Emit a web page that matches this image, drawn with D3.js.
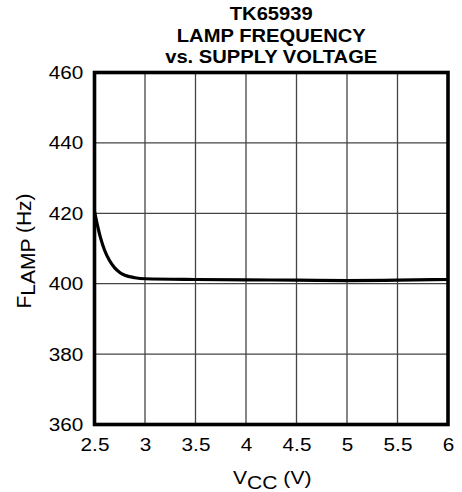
<!DOCTYPE html>
<html>
<head>
<meta charset="utf-8">
<script src="https://cdn.jsdelivr.net/npm/d3@7"></script>
<style>
  body { margin: 0; background: #fff; }
  text { font-family: "Liberation Sans", Arial, sans-serif; fill: #000; }
</style>
</head>
<body>
<script>
// data
var titleLines = ["TK65939", "LAMP FREQUENCY", "vs. SUPPLY VOLTAGE"];
var xTicks = [2.5, 3, 3.5, 4, 4.5, 5, 5.5, 6];
var yTicks = [360, 380, 400, 420, 440, 460];
var vcc = [2.5, 2.53, 2.56, 2.6, 2.65, 2.7, 2.75, 2.8, 2.9, 3.0, 3.5, 4, 4.5, 5, 5.5, 6];
var flamp = [420.5, 416.5, 413.0, 409.5, 406.5, 404.5, 403.2, 402.4, 401.7, 401.4, 401.2, 401.1, 401.0, 400.9, 401.0, 401.2];

var W = 462, H = 492;
var plot = { left: 94.5, right: 448, top: 72.5, bottom: 424.5 };
var cx = (plot.left + plot.right) / 2;

var svg = d3.select("body").append("svg")
    .attr("width", W)
    .attr("height", H);

var x = d3.scaleLinear().domain([2.5, 6]).range([plot.left, plot.right]);
var y = d3.scaleLinear().domain([360, 460]).range([plot.bottom, plot.top]);

// title
svg.append("g")
    .attr("transform", "translate(" + cx + ",0) scale(1.12,1)")
    .selectAll("text")
    .data(titleLines)
    .enter().append("text")
    .attr("x", 0)
    .attr("y", function (d, i) { return [20, 42, 63][i]; })
    .attr("text-anchor", "middle")
    .style("font-weight", "bold")
    .style("font-size", "18px")
    .text(function (d) { return d; });

// grid
svg.append("g")
    .selectAll("line")
    .data(xTicks.slice(1, -1))
    .enter().append("line")
    .attr("x1", function (d) { return x(d); })
    .attr("x2", function (d) { return x(d); })
    .attr("y1", plot.top)
    .attr("y2", plot.bottom)
    .attr("stroke", "#444")
    .attr("stroke-width", 1.3);

svg.append("g")
    .selectAll("line")
    .data(yTicks.slice(1, -1))
    .enter().append("line")
    .attr("x1", plot.left)
    .attr("x2", plot.right)
    .attr("y1", function (d) { return y(d); })
    .attr("y2", function (d) { return y(d); })
    .attr("stroke", "#444")
    .attr("stroke-width", 1.3);

// axes (labels only)
var xAxis = d3.axisBottom(x).tickValues(xTicks).tickSize(0).tickPadding(13)
    .tickFormat(function (d) { return String(d); });
var yAxis = d3.axisLeft(y).tickValues(yTicks).tickSize(0).tickPadding(10)
    .tickFormat(function (d) { return String(d); });

var gx = svg.append("g")
    .attr("transform", "translate(0," + plot.bottom + ")")
    .call(xAxis);
var gy = svg.append("g")
    .attr("transform", "translate(" + plot.left + ",0)")
    .call(yAxis);

[gx, gy].forEach(function (g) {
    g.select(".domain").remove();
    g.selectAll("text")
        .style("font-size", "18.5px")
        .style("font-family", "'Liberation Sans', Arial, sans-serif")
        .attr("fill", "#000")
        .attr("transform", "scale(1.12,1)");
});

// curve
var line = d3.line()
    .x(function (d, i) { return x(vcc[i]); })
    .y(function (d) { return y(d); })
    .curve(d3.curveMonotoneX);

svg.append("path")
    .datum(flamp)
    .attr("d", line)
    .attr("fill", "none")
    .attr("stroke", "#000")
    .attr("stroke-width", 3.2);

// frame
svg.append("rect")
    .attr("x", plot.left)
    .attr("y", plot.top)
    .attr("width", plot.right - plot.left)
    .attr("height", plot.bottom - plot.top)
    .attr("fill", "none")
    .attr("stroke", "#000")
    .attr("stroke-width", 3.6);

// x label: V_CC (V)
var xl = svg.append("text")
    .attr("transform", "translate(" + (cx + 1) + ",484) scale(1.14,1)")
    .attr("text-anchor", "middle")
    .style("font-size", "18.5px");
xl.append("tspan").text("V");
xl.append("tspan").attr("dy", 5).text("CC");
xl.append("tspan").attr("dy", -5).text(" (V)");

// y label: F_LAMP (Hz)
var yl = svg.append("text")
    .attr("transform", "translate(31,251) rotate(-90)")
    .attr("text-anchor", "middle")
    .style("font-size", "21px");
yl.append("tspan").text("F");
yl.append("tspan").attr("dy", 4).text("LAMP");
yl.append("tspan").attr("dy", -4).text(" (Hz)");
</script>
</body>
</html>
